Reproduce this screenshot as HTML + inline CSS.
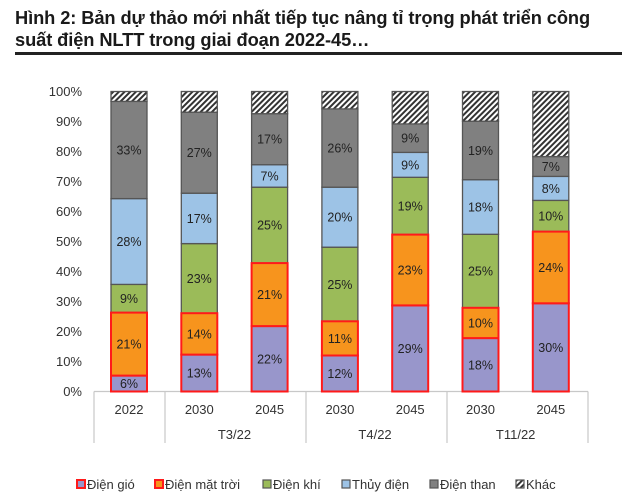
<!DOCTYPE html>
<html><head><meta charset="utf-8">
<style>
html,body{margin:0;padding:0;background:#fff;width:622px;height:500px;overflow:hidden}
.title{position:absolute;left:15px;top:7px;font:bold 18.3px "Liberation Sans",sans-serif;line-height:22px;color:#1a1a1a;white-space:nowrap;letter-spacing:-0.1px}
.rule{position:absolute;left:15px;top:52px;width:607px;height:3px;background:#222}
svg{position:absolute;left:0;top:0}
</style></head><body>
<div class="title">Hình 2: Bản dự thảo mới nhất tiếp tục nâng tỉ trọng phát triển công<br>suất điện NLTT trong giai đoạn 2022-45…</div>
<div class="rule"></div>
<svg id="chart" width="622" height="500">
<defs><pattern id="hatch" patternUnits="userSpaceOnUse" width="4" height="4" patternTransform="rotate(45)"><rect width="4" height="4" fill="#fff"/><rect width="2" height="4" fill="#333"/></pattern></defs>
</svg>
<script>
const categories = ["2022","2030","2045","2030","2045","2030","2045"];
const groups = [{label:"T3/22",from:1,to:2},{label:"T4/22",from:3,to:4},{label:"T11/22",from:5,to:6}];
const seriesNames = ["Điện gió","Điện mặt trời","Điện khí","Thủy điện","Điện than","Khác"];
const gio   = [5.3,12.3,21.8,12.0,28.7,17.8,29.4];
const matTroi = [21.0,13.8,21.0,11.4,23.6,10.1,23.9];
const khi   = [9.4,23.2,25.3,24.7,19.1,24.5,10.4];
const thuy  = [28.6,16.8,7.5,20.0,8.3,18.2,8.0];
const than  = [32.4,27.0,17.0,26.1,9.5,19.5,6.6];
const khac  = [3.3,6.9,7.4,5.8,10.8,9.9,21.7];
const gioLbl = ["6%","13%","22%","12%","29%","18%","30%"];
const matTroiLbl = ["21%","14%","21%","11%","23%","10%","24%"];
const khiLbl = ["9%","23%","25%","25%","19%","25%","10%"];
const thuyLbl = ["28%","17%","7%","20%","9%","18%","8%"];
const thanLbl = ["33%","27%","17%","26%","9%","19%","7%"];
const yTicks = [0,10,20,30,40,50,60,70,80,90,100];

const svg = document.getElementById('chart');
const NS = 'http://www.w3.org/2000/svg';
const y0 = 391.5, yTop = 91.5;
const yScale = v => y0 - (v/100)*(y0-yTop);
const bw = 36;
const xCenter = i => 129 + i*70.3;
const sepX = [94,165,306,447,588];
function mk(tag, attrs){const e=document.createElementNS(NS,tag);for(const k in attrs)e.setAttribute(k,attrs[k]);svg.appendChild(e);return e;}

yTicks.forEach(t=>{
  const e=mk('text',{x:82,y:yScale(t)+4.5,'text-anchor':'end','font-family':'Liberation Sans, sans-serif','font-size':'13',fill:'#333'});
  e.textContent=t+'%';
  
  
});
const ax=mk('line',{x1:94,x2:588,y1:y0,y2:y0,stroke:'#c8c8c8','stroke-width':1.2});


sepX.forEach(x=>{
  const l=mk('line',{x1:x,x2:x,y1:y0,y2:443,stroke:'#c8c8c8','stroke-width':1.2});
  
  
});
categories.forEach((c,i)=>{
  const e=mk('text',{x:xCenter(i),y:414,'text-anchor':'middle','font-family':'Liberation Sans, sans-serif','font-size':'13',fill:'#333'});
  e.textContent=c;
  
  
});
groups.forEach(g=>{
  const e=mk('text',{x:(xCenter(g.from)+xCenter(g.to))/2,y:439,'text-anchor':'middle','font-family':'Liberation Sans, sans-serif','font-size':'13',fill:'#333'});
  e.textContent=g.label;
  
  
});

const series = [
  {vals:gio,lbl:gioLbl,fill:'#9896cb',stroke:'#ff1a1a',sw:2,name:'bar-dien-gio'},
  {vals:matTroi,lbl:matTroiLbl,fill:'#f7941d',stroke:'#ff1a1a',sw:2,name:'bar-dien-mat-troi'},
  {vals:khi,lbl:khiLbl,fill:'#9bbb59',stroke:'#555',sw:1.3,name:'bar-dien-khi'},
  {vals:thuy,lbl:thuyLbl,fill:'#9dc3e6',stroke:'#555',sw:1.3,name:'bar-thuy-dien'},
  {vals:than,lbl:thanLbl,fill:'#808080',stroke:'#555',sw:1.3,name:'bar-dien-than'},
  {vals:khac,lbl:null,fill:'url(#hatch)',stroke:'#555',sw:1.3,name:'bar-khac'}
];
const labels=[];
categories.forEach((c,i)=>{
  let cum=0;
  const rects=[];
  series.forEach(s=>{
    const v=s.vals[i];
    const yt=yScale(cum+v), yb=yScale(cum);
    rects.push({x:xCenter(i)-bw/2,y:yt,w:bw,h:yb-yt,s:s});
    if(s.lbl) labels.push({x:xCenter(i),y:(yt+yb)/2+4.5,t:s.lbl[i]});
    cum+=v;
  });
  rects.slice().sort((a,b)=>(a.s.sw>1.5)-(b.s.sw>1.5)).forEach(r=>{
    const e=mk('rect',{x:r.x,y:r.y,width:r.w,height:r.h,fill:r.s.fill,stroke:r.s.stroke,'stroke-width':r.s.sw});
    
    
  });
});
labels.forEach(l=>{
  const e=mk('text',{x:l.x,y:l.y,'text-anchor':'middle','font-family':'Liberation Sans, sans-serif','font-size':'12.5',fill:'#222'});
  e.textContent=l.t;
  
  
});
const legX=[77,155,263,342,430,516];
series.forEach((s,i)=>{
  const r=mk('rect',{x:legX[i],y:480,width:8,height:8,fill:s.fill,stroke:s.stroke,'stroke-width':s.sw>1.5?2:1.2});
  
  
  const t=mk('text',{x:legX[i]+10,y:489,'font-family':'Liberation Sans, sans-serif','font-size':'13',fill:'#333'});
  t.textContent=seriesNames[i];
  
  
});
</script>
</body></html>
